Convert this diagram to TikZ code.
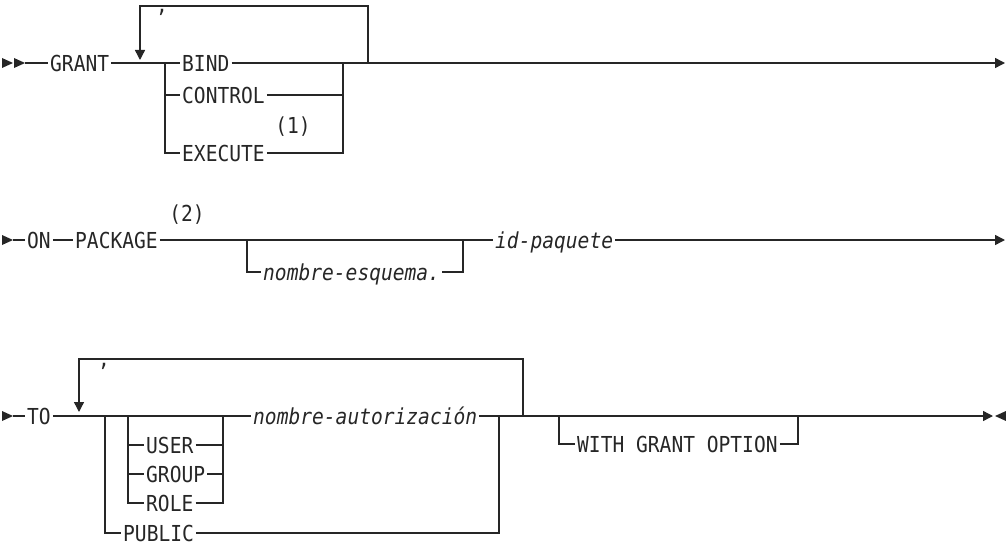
\documentclass[tikz,border=0pt]{standalone}
\usepackage{fontspec}
\newfontfamily\diagfont[FakeStretch=0.89]{DejaVu Sans Mono}
\usetikzlibrary{arrows.meta}
\definecolor{ink}{RGB}{38,38,38}
\begin{document}
\begin{tikzpicture}[x=1pt,y=-1pt,
  lbl/.style={font=\diagfont\fontsize{22}{22}\selectfont, inner xsep=2pt, inner ysep=0pt,
              text height=16pt, text depth=0pt, anchor=west, text=ink},
  itl/.style={lbl, font=\diagfont\itshape\fontsize{22}{22}\selectfont},
  cma/.style={font=\diagfont\fontsize{22}{22}\selectfont, inner sep=0pt, anchor=base west, text=ink},
  rail/.style={draw=ink, line width=1.4pt},
  endarrow/.style={rail, -{Triangle[length=10pt,width=10pt]}},
  tri/.style={fill=ink, draw=none}]
\useasboundingbox (0,0) rectangle (1006,543);

% ---------------- Row 1 ----------------
\fill[tri] (2,58) -- (13,63) -- (2,68) -- cycle;
\fill[tri] (14,58) -- (25,63) -- (14,68) -- cycle;
\coordinate (s1) at (25,63);
\node[lbl] (grant) at (48,63) {GRANT};
\coordinate (b1L) at (165,63);
\node[lbl] (bind) at (180,63) {BIND};
\node[lbl] (control) at (180,95) {CONTROL};
\node[lbl] (execute) at (180,153) {EXECUTE};
\node[lbl,anchor=center] (n1) at (293,125) {(1)};
\coordinate (b1R) at (343,63);
\coordinate (loop1R) at (368,63);
\coordinate (top1) at (140,6);
\coordinate (tip1) at (140,60);
\coordinate (end1) at (1005,63);
\node[cma] (c1) at (156,13) {,};

\draw[rail] (s1) -- (grant.west);
\draw[rail] (grant.east) -- (b1L) -- (bind.west);
\draw[rail] (b1L) |- (execute.west);
\draw[rail] (b1L |- control.west) -- (control.west);
\draw[rail] (bind.east) -- (b1R);
\draw[rail] (control.east) -- (control.east -| b1R);
\draw[rail] (execute.east) -| (b1R);
\draw[endarrow] (b1R) -- (end1);
\draw[endarrow] (loop1R) |- (top1) -- (tip1);

% ---------------- Row 2 ----------------
\fill[tri] (2,235) -- (13,240) -- (2,245) -- cycle;
\coordinate (s2) at (13,240);
\node[lbl] (on) at (25,240) {ON};
\node[lbl] (package) at (73,240) {PACKAGE};
\node[lbl,anchor=center] (n2) at (187,213) {(2)};
\coordinate (b2L) at (247,240);
\node[itl] (nesq) at (261,272) {nombre-esquema.};
\coordinate (b2R) at (463,240);
\node[itl] (idp) at (493,240) {id-paquete};
\coordinate (end2) at (1005,240);

\draw[rail] (s2) -- (on.west);
\draw[rail] (on.east) -- (package.west);
\draw[rail] (package.east) -- (b2L) -- (b2R) -- (idp.west);
\draw[rail] (b2L) |- (nesq.west);
\draw[rail] (nesq.east) -| (b2R);
\draw[endarrow] (idp.east) -- (end2);

% ---------------- Row 3 ----------------
\fill[tri] (2,411) -- (13,416) -- (2,421) -- cycle;
\coordinate (s3) at (13,416);
\node[lbl] (to) at (25,416) {TO};
\coordinate (o3L) at (105,416);
\coordinate (i3L) at (128,416);
\node[lbl] (user) at (144,445) {USER};
\node[lbl] (group) at (144,474) {GROUP};
\node[lbl] (role) at (144,503) {ROLE};
\coordinate (i3R) at (223,416);
\node[itl] (nauth) at (251,416) {nombre-autorización};
\node[lbl] (public) at (121,533) {PUBLIC};
\coordinate (o3R) at (499,416);
\coordinate (loop3R) at (523,416);
\coordinate (top3) at (79,359);
\coordinate (tip3) at (79,412);
\node[cma] (c3) at (98,366) {,};
\coordinate (w3L) at (559,416);
\node[lbl] (with) at (575,444) {WITH GRANT OPTION};
\coordinate (w3R) at (798,416);
\coordinate (end3) at (993,416);

\draw[rail] (s3) -- (to.west);
\draw[rail] (to.east) -- (o3L) -- (i3L) -- (i3R) -- (nauth.west);
\draw[rail] (i3L) |- (role.west);
\draw[rail] (i3L |- user.west) -- (user.west);
\draw[rail] (i3L |- group.west) -- (group.west);
\draw[rail] (user.east) -- (user.east -| i3R);
\draw[rail] (group.east) -- (group.east -| i3R);
\draw[rail] (role.east) -| (i3R);
\draw[rail] (o3L) |- (public.west);
\draw[rail] (public.east) -| (o3R);
\draw[rail] (nauth.east) -- (o3R) -- (loop3R) -- (w3L) -- (w3R);
\draw[endarrow] (loop3R) |- (top3) -- (tip3);
\draw[rail] (w3L) |- (with.west);
\draw[rail] (with.east) -| (w3R);
\draw[endarrow] (w3R) -- (end3);
\draw[draw=ink, line width=2.6pt] (803,416) -- (828,416);
\fill[tri] (1006,411) -- (995,416) -- (1006,421) -- cycle;
\end{tikzpicture}
\end{document}
